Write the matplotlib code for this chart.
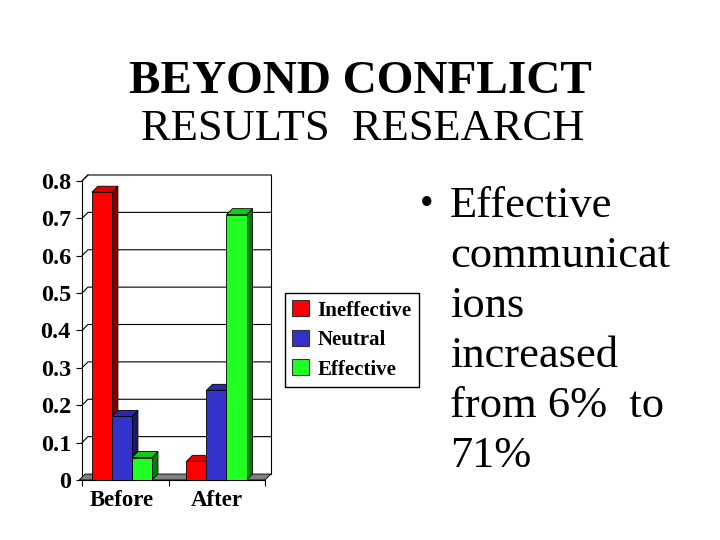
import matplotlib
matplotlib.use("Agg")
import matplotlib.pyplot as plt
from matplotlib.patches import Polygon, Patch

categories = ["Before", "After"]
series = ["Ineffective", "Neutral", "Effective"]
values = {
    "Ineffective": [0.77, 0.05],
    "Neutral": [0.17, 0.24],
    "Effective": [0.06, 0.71],
}
yticks = [0, 0.1, 0.2, 0.3, 0.4, 0.5, 0.6, 0.7, 0.8]
ytick_labels = ["0", "0.1", "0.2", "0.3", "0.4", "0.5", "0.6", "0.7", "0.8"]
bullet_lines = ["Effective", "communicat", "ions", "increased", "from 6%  to", "71%"]

front_colors = {"Ineffective": "#FF0000", "Neutral": "#3333CC", "Effective": "#22FF22"}
top_colors = {"Ineffective": "#DD0000", "Neutral": "#2A2AAA", "Effective": "#11CC11"}
side_colors = {"Ineffective": "#800000", "Neutral": "#1A1A66", "Effective": "#008000"}

SERIF = "Liberation Serif"

fig = plt.figure(figsize=(7.2, 5.4), dpi=100)
fig.patch.set_facecolor("white")

ax = fig.add_axes([82 / 720, 60 / 540, 189 / 720, 305 / 540])
x0, x1 = -0.423, 1.577
dx, dy = 0.063, 0.016
ax.set_xlim(x0, x1)
ax.set_ylim(0, 0.8 + dy)
for s in ax.spines.values():
    s.set_visible(False)

# floor
ax.add_patch(Polygon([(x0 - 0.03, 0), (x1 - dx, 0), (x1, dy), (x0 + dx - 0.03, dy)],
                     closed=True, facecolor="#808080", edgecolor="black", lw=0.6,
                     zorder=1, clip_on=False))
# grid lines on back wall
for v in yticks[1:]:
    ax.plot([x0, x0 + dx, x1], [v, v + dy, v + dy], color="black", lw=0.8,
            zorder=0.5, clip_on=False)
# back wall right edge
ax.plot([x1, x1], [dy, 0.8 + dy], color="black", lw=0.8, zorder=0.5, clip_on=False)
# left front axis
ax.plot([x0, x0], [0, 0.8], color="black", lw=0.8, zorder=0.6, clip_on=False)
ax.plot([x0, x0 + dx], [0.8, 0.8 + dy], color="black", lw=0.8, zorder=0.6, clip_on=False)
# bottom axis
ax.plot([x0, x1 - dx], [0, 0], color="black", lw=0.8, zorder=1.1, clip_on=False)

ax.set_yticks(yticks)
ax.set_yticklabels(ytick_labels, fontfamily=SERIF, fontweight="bold", fontsize=17.5)
ax.tick_params(axis="y", direction="out", length=4, width=0.8, pad=4)
xc = [0, 1]
ax.set_xticks([x0, 0.5, x1 - dx])
ax.set_xticklabels(["", "", ""])
ax.tick_params(axis="x", direction="out", length=4, width=0.8)
for c, lab in zip(xc, categories):
    ax.text(c, -0.028, lab, ha="center", va="top", fontfamily=SERIF,
            fontweight="bold", fontsize=16.5)

w = 0.212
z = 2
for gi, c in enumerate(xc):
    for si, s in enumerate(series):
        h = values[s][gi]
        l = c + (si - 1.5) * w
        r = l + w
        ax.bar(l + w / 2, h, width=w, color=front_colors[s], edgecolor="black",
               lw=0.6, zorder=z)
        ax.add_patch(Polygon([(r, 0), (r + dx, dy), (r + dx, h + dy), (r, h)],
                             closed=True, facecolor=side_colors[s], edgecolor="black",
                             lw=0.6, zorder=z - 0.5))
        ax.add_patch(Polygon([(l, h), (r, h), (r + dx, h + dy), (l + dx, h + dy)],
                             closed=True, facecolor=top_colors[s], edgecolor="black",
                             lw=0.6, zorder=z - 0.5))
        z += 1

handles = [Patch(facecolor=front_colors[s], edgecolor="#333333", lw=0.8) for s in series]
leg = fig.legend(handles, series, loc="center", bbox_to_anchor=(352 / 720, 1 - 340 / 540),
                 frameon=True, fancybox=False, edgecolor="black", framealpha=1,
                 prop={"family": SERIF, "weight": "bold", "size": 15},
                 handlelength=0.8, handleheight=0.8, handletextpad=0.4,
                 labelspacing=0.45, borderpad=0.35, borderaxespad=0)
leg.get_frame().set_linewidth(1.0)

fig.text(360 / 720, 1 - 93 / 540, "BEYOND CONFLICT", ha="center", va="baseline",
         fontfamily=SERIF, fontweight="bold", fontsize=34)
fig.text(363 / 720, 1 - 140 / 540, "RESULTS  RESEARCH", ha="center", va="baseline",
         fontfamily=SERIF, fontsize=32)

fig.text(420 / 720, 1 - 215 / 540, "\u2022", ha="left", va="baseline",
         fontfamily=SERIF, fontsize=28)
for i, line in enumerate(bullet_lines):
    fig.text(450 / 720, 1 - (217 + 50 * i) / 540, line, ha="left", va="baseline",
             fontfamily=SERIF, fontsize=32)

fig.savefig("out.png", dpi=100, facecolor="white")
